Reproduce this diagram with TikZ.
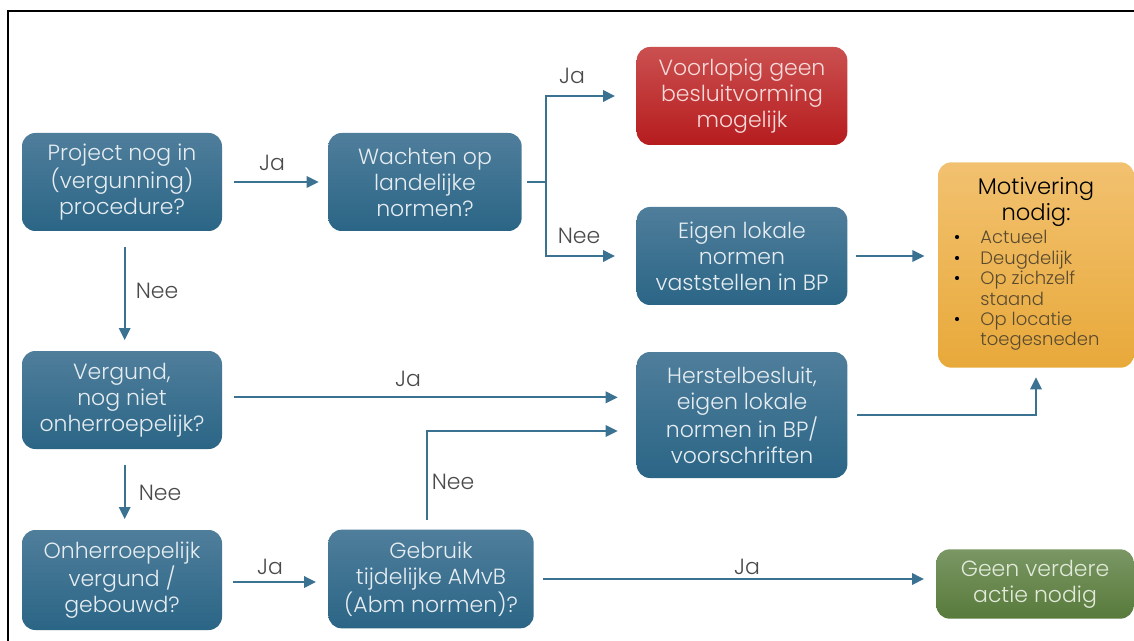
\documentclass[tikz,border=0pt]{standalone}
\usepackage{fontspec}
\setmainfont{Poppins}[UprightFont=* Light]
\usepackage{xcolor}
\usetikzlibrary{arrows.meta,positioning,calc}

\definecolor{boxtop}{HTML}{4F7E9B}
\definecolor{boxbot}{HTML}{2B6586}
\definecolor{boxtxt}{HTML}{E6EDF2}
\definecolor{redtop}{HTML}{CB5050}
\definecolor{redbot}{HTML}{B61C1E}
\definecolor{redtxt}{HTML}{F6DADA}
\definecolor{grntop}{HTML}{7A9764}
\definecolor{grnbot}{HTML}{587A3B}
\definecolor{grntxt}{HTML}{E2EADA}
\definecolor{mottop}{HTML}{F2C170}
\definecolor{motbot}{HTML}{E8A93A}
\definecolor{motitem}{HTML}{5A4A30}
\definecolor{linec}{HTML}{3B7191}
\definecolor{lblc}{HTML}{4A4A4A}

\begin{document}
\begin{tikzpicture}[
    x=0.75pt, y=-0.75pt,
    box/.style={rounded corners=10pt, top color=boxtop, bottom color=boxbot, draw=none, minimum width=150pt, minimum height=73.5pt, inner sep=1pt, align=center, text=boxtxt, font=\fontsize{16.5}{19.5}\selectfont},
    redbox/.style={box, top color=redtop, bottom color=redbot, text=redtxt},
    okbox/.style={box, top color=grntop, bottom color=grnbot, text=grntxt},
    motbox/.style={box, top color=mottop, bottom color=motbot, text=black, font=\fontsize{17}{19.5}\selectfont},
    arr/.style={-{Triangle[length=9pt,width=8.5pt]}, draw=linec, line width=1.6pt},
    lin/.style={draw=linec, line width=1.6pt},
    lbl/.style={text=lblc, font=\fontsize{16.5}{18}\selectfont},
]
\useasboundingbox (0,0) rectangle (1134,641);

% Frame
\draw[black, line width=1.5pt] (8,645) -- (8,11) -- (1140,11);

% Left column: questions
\node[box] (proj) at (122,182) {Project nog in\\(vergunning)\\procedure?};
\node[box] (verg) at (122,400) {Vergund,\\nog niet\\onherroepelijk?};
\node[box, minimum height=75pt] (onh) at (122,580) {Onherroepelijk\\vergund /\\gebouwd?};

% Middle column
\node[box, minimum width=145pt] (wacht) at (425,182) {Wachten op\\landelijke\\normen?};
\node[box, minimum width=154pt, minimum height=74pt] (gebr) at (431,579) {Gebruik\\tijdelijke AMvB\\(Abm normen)?};

% Right column: outcomes
\node[redbox, minimum width=158pt] (voorl) at (742,96) {Voorlopig geen\\besluitvorming\\mogelijk};
\node[box, minimum width=158pt] (eigen) at (742,256) {Eigen lokale\\normen\\vaststellen in BP};
\node[box, minimum width=158pt, minimum height=94.5pt] (herst) at (742,415) {Herstelbesluit,\\eigen lokale\\normen in BP/\\voorschriften};
\node[okbox, minimum width=148pt, minimum height=52pt] (geen) at (1035,584) {Geen verdere\\actie nodig};

% Motivering
\node[motbox, minimum width=147pt, minimum height=154pt] (motiv) at (1036,265) {Motivering\\nodig:\\[1pt]
  {\fontsize{13.5}{15.3}\selectfont\color{motitem}%
  \begin{tabular}{@{}l@{\hspace{15pt}}l@{}}
  {\color{black}\textbullet} & Actueel\\
  {\color{black}\textbullet} & Deugdelijk\\
  {\color{black}\textbullet} & Op zichzelf\\
              & staand\\
  {\color{black}\textbullet} & Op locatie\\
              & toegesneden
  \end{tabular}\hspace*{14pt}}};

% Split point after Wachten op
\coordinate (split) at (546,182);

% Edges
\draw[arr, shorten <=9pt, shorten >=7pt] (proj) -- (wacht);
\draw[lin, shorten <=4pt] (wacht.east) -- (split);
\draw[arr, shorten >=16pt] (split) |- (voorl.west);
\draw[arr, shorten >=16pt] (split) |- (eigen.west);
\draw[arr, shorten <=6pt, shorten >=10pt] (eigen.east) -- (eigen.east -| motiv.west);
\draw[arr, shorten <=12pt, shorten >=8pt] ([xshift=2pt]proj.south) -- ([xshift=2pt]verg.north);
\draw[arr, shorten <=9pt, shorten >=14pt] ([yshift=2pt]verg.east) -- ([yshift=2pt]verg.east -| herst.west);
\draw[arr, shorten <=12pt, shorten >=8pt] ([xshift=2pt]verg.south) -- ([xshift=2pt]onh.north);
\draw[arr, shorten <=8pt, shorten >=9pt] ([yshift=-1.5pt]onh.east) -- ([yshift=-1.5pt]onh.east -| gebr.west);
\draw[arr, shorten <=7pt, shorten >=14pt] ([xshift=-3pt]gebr.north) |- ([yshift=-12pt]herst.west);
\draw[arr, shorten <=7pt, shorten >=9pt] (gebr.east) -- (gebr.east -| geen.west);
\draw[arr, shorten <=7pt, shorten >=7pt] (herst.east) -| (motiv.south);

% Edge labels
\node[lbl] (l1) at (272,163) {Ja};
\node[lbl] (l2) at (572,76) {Ja};
\node[lbl] (l3) at (579,236) {Nee};
\node[lbl] (l4) at (157,291) {Nee};
\node[lbl] (l5) at (408,379) {Ja};
\node[lbl] (l6) at (160,493) {Nee};
\node[lbl] (l7) at (270,567) {Ja};
\node[lbl] (l8) at (453,482) {Nee};
\node[lbl] (l9) at (747,567) {Ja};
\end{tikzpicture}
\end{document}
